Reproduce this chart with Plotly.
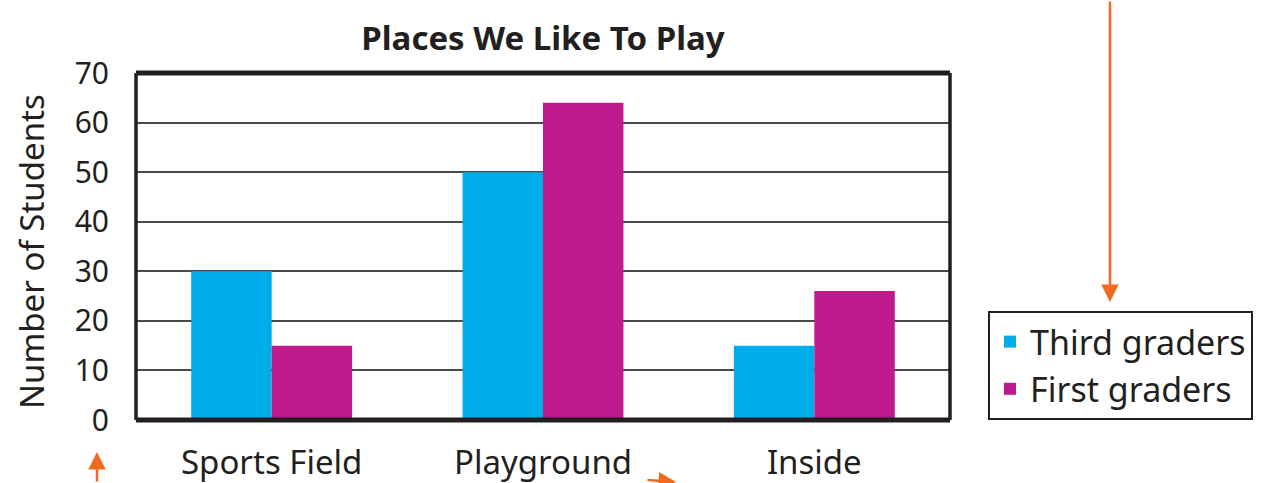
import plotly.graph_objects as go

categories = ["Sports Field", "Playground", "Inside"]
third_graders = [30, 50, 15]
first_graders = [15, 64, 26]
y_ticks = [0, 10, 20, 30, 40, 50, 60, 70]

W, H = 1268, 483
L, R, T, B = 136, 950, 73, 420
pw, ph = R - L, B - T

def px(x):
    return (x - L) / pw

def py(y):
    return (B - y) / ph

FONT = "Noto Sans, sans-serif"
INK = "#231f20"
ORANGE = "#f26a21"

fig = go.Figure()
fig.add_trace(go.Bar(name="Third graders", x=categories, y=third_graders,
                     marker=dict(color="#00adeb", line=dict(width=0))))
fig.add_trace(go.Bar(name="First graders", x=categories, y=first_graders,
                     marker=dict(color="#bd1a8d", line=dict(width=0))))

fig.update_layout(
    width=W, height=H,
    margin=dict(l=L, r=W - R, t=T, b=H - B, pad=0, autoexpand=False),
    paper_bgcolor="white", plot_bgcolor="white",
    barmode="group", bargap=0.407, bargroupgap=0,
    font=dict(family=FONT, color=INK, size=28),
    title=dict(text="<b>Places We Like To Play</b>", x=0.5, xref="paper",
               xanchor="center", y=1 - 38 / H, yanchor="middle",
               font=dict(family=FONT, size=33, color=INK)),
    legend=dict(x=px(988), y=py(311), xanchor="left", yanchor="top",
                bordercolor=INK, borderwidth=2, bgcolor="white",
                font=dict(family=FONT, size=34, color=INK),
                itemsizing="constant", tracegroupgap=0),
    showlegend=True,
)
fig.update_xaxes(showgrid=False, showline=False, zeroline=False, ticks="",
                 automargin=False,
                 tickfont=dict(family=FONT, size=33, color=INK),
                 ticklabelstandoff=20)
fig.update_yaxes(range=[0, 70], tickvals=y_ticks, showgrid=True,
                 automargin=False,
                 gridcolor="#4a4a4a", gridwidth=2, zeroline=False,
                 showline=False, ticks="",
                 tickfont=dict(family=FONT, size=30, color=INK),
                 ticklabelstandoff=26)

# frame
fig.add_shape(type="line", xref="paper", yref="paper", x0=0, x1=1, y0=1, y1=1,
              line=dict(color=INK, width=5), layer="above")
fig.add_shape(type="line", xref="paper", yref="paper", x0=0, x1=1, y0=0, y1=0,
              line=dict(color=INK, width=5), layer="above")
fig.add_shape(type="line", xref="paper", yref="paper", x0=0, x1=0, y0=0, y1=1,
              line=dict(color=INK, width=3.5), layer="above")
fig.add_shape(type="line", xref="paper", yref="paper", x0=1, x1=1, y0=0, y1=1,
              line=dict(color=INK, width=3.5), layer="above")

# y axis title
fig.add_annotation(text="Number of Students", xref="paper", yref="paper",
                   x=px(32), y=py(252), textangle=-90, showarrow=False,
                   xanchor="center", yanchor="middle",
                   font=dict(family=FONT, size=33, color=INK))

# orange arrows
fig.add_annotation(xref="paper", yref="paper", x=px(1110), y=py(302),
                   ax=0, ay=-310, showarrow=True, arrowhead=2, arrowsize=1.4,
                   arrowwidth=2.5, arrowcolor=ORANGE, text="")
fig.add_annotation(xref="paper", yref="paper", x=px(97), y=py(452),
                   ax=0, ay=40, showarrow=True, arrowhead=2, arrowsize=1.4,
                   arrowwidth=2.5, arrowcolor=ORANGE, text="")
fig.add_annotation(xref="paper", yref="paper", x=px(676), y=py(490),
                   ax=-30, ay=-10, showarrow=True, arrowhead=2, arrowsize=1.4,
                   arrowwidth=2.5, arrowcolor=ORANGE, text="")

fig.write_html("out.html", config={"displayModeBar": False},
               post_script="document.body.style.margin='0';"
                           "document.body.style.overflow='hidden';")
